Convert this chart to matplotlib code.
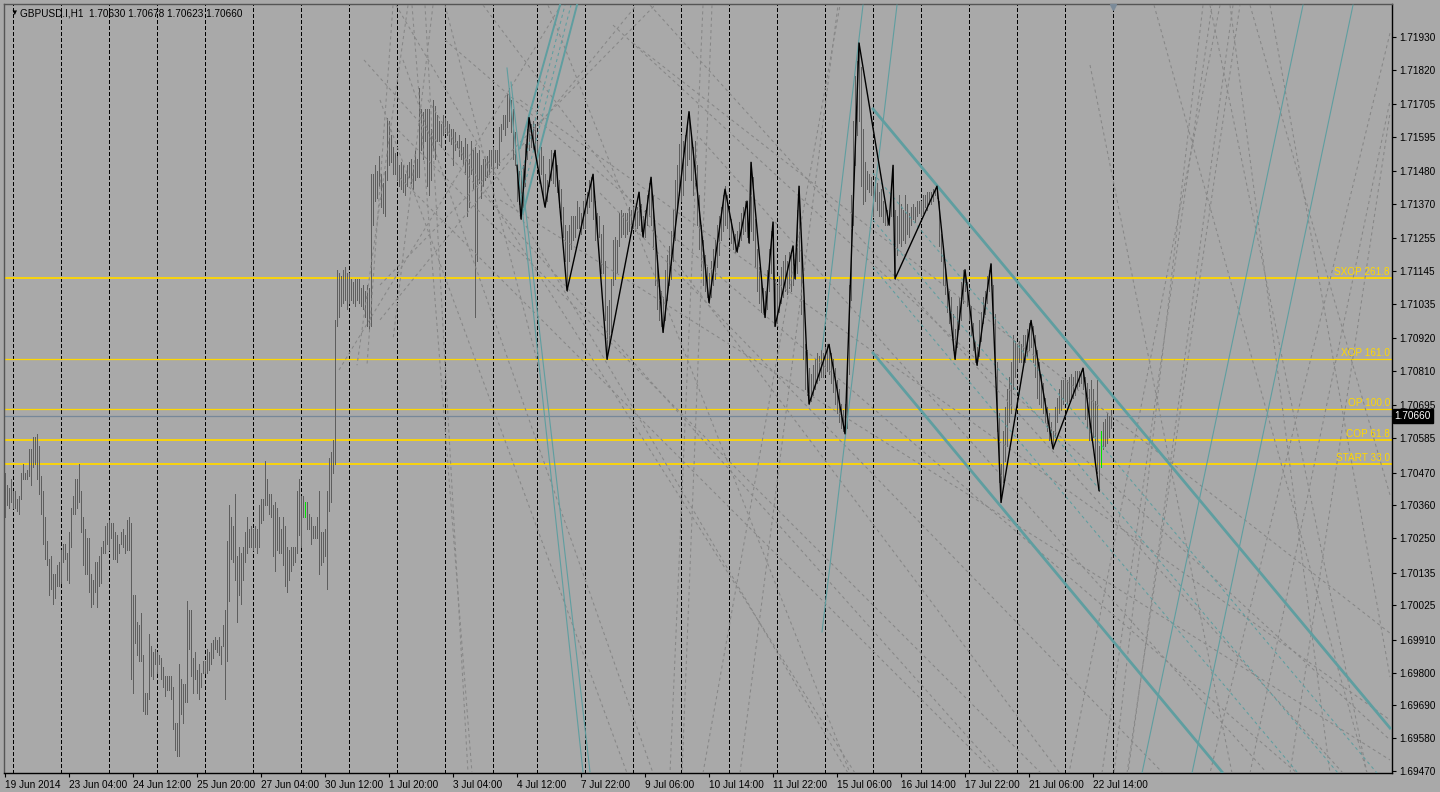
import matplotlib
matplotlib.use("Agg")
import matplotlib.pyplot as plt
import matplotlib.transforms as mtransforms

plt.rcParams["font.family"] = ["Liberation Sans", "DejaVu Sans"]

# GBPUSD H1 bars (high / low)
bar_high = [
    1.7047, 1.7043, 1.7042, 1.7045, 1.7041, 1.7041, 1.7038, 1.7039, 1.7047, 1.7050,
    1.7047, 1.7048, 1.7055, 1.7055, 1.7059, 1.7059, 1.7060, 1.7056, 1.7046, 1.7041,
    1.7032, 1.7024, 1.7018, 1.7019, 1.7013, 1.7013, 1.7016, 1.7017, 1.7021, 1.7023,
    1.7023, 1.7020, 1.7027, 1.7035, 1.7039, 1.7045, 1.7045, 1.7050, 1.7041, 1.7032,
    1.7028, 1.7025, 1.7025, 1.7013, 1.7011, 1.7017, 1.7017, 1.7019, 1.7022, 1.7024,
    1.7029, 1.7030, 1.7031, 1.7030, 1.7030, 1.7027, 1.7026, 1.7023, 1.7027, 1.7028,
    1.7026, 1.7031, 1.7032, 1.7030, 1.7006, 1.7006, 1.6997, 1.6996, 1.7000, 1.6986,
    1.6973, 1.6973, 1.6993, 1.6989, 1.6987, 1.6988, 1.6987, 1.6986, 1.6985, 1.6982,
    1.6979, 1.6979, 1.6979, 1.6979, 1.6975, 1.6963, 1.6963, 1.6983, 1.6978, 1.6976,
    1.6976, 1.7004, 1.7001, 1.7001, 1.6985, 1.6987, 1.6981, 1.6983, 1.6980, 1.6984,
    1.6984, 1.6988, 1.6987, 1.6990, 1.6991, 1.6992, 1.6991, 1.6992, 1.6989, 1.6996,
    1.7001, 1.7024, 1.7036, 1.7032, 1.7029, 1.7040, 1.7019, 1.7022, 1.7020, 1.7022,
    1.7027, 1.7032, 1.7028, 1.7029, 1.7028, 1.7029, 1.7028, 1.7036, 1.7038, 1.7038,
    1.7051, 1.7045, 1.7040, 1.7040, 1.7036, 1.7037, 1.7035, 1.7032, 1.7028, 1.7032,
    1.7029, 1.7022, 1.7021, 1.7022, 1.7022, 1.7022, 1.7041, 1.7045, 1.7039, 1.7039,
    1.7037, 1.7037, 1.7033, 1.7032, 1.7029, 1.7029, 1.7032, 1.7041, 1.7027, 1.7027,
    1.7028, 1.7041, 1.7052, 1.7054, 1.7058, 1.7098, 1.7115, 1.7114, 1.7113, 1.7115,
    1.7116, 1.7114, 1.7114, 1.7112, 1.7111, 1.7112, 1.7112, 1.7112, 1.7109, 1.7110,
    1.7108, 1.7110, 1.7109, 1.7147, 1.7147, 1.7150, 1.7148, 1.7153, 1.7147, 1.7144,
    1.7148, 1.7166, 1.7165, 1.7160, 1.7156, 1.7154, 1.7153, 1.7150, 1.7151, 1.7150,
    1.7147, 1.7150, 1.7151, 1.7152, 1.7150, 1.7155, 1.7152, 1.7176, 1.7169, 1.7168,
    1.7169, 1.7169, 1.7169, 1.7162, 1.7172, 1.7170, 1.7167, 1.7165, 1.7164, 1.7167,
    1.7166, 1.7165, 1.7164, 1.7162, 1.7162, 1.7161, 1.7158, 1.7160, 1.7158, 1.7156,
    1.7159, 1.7157, 1.7152, 1.7158, 1.7155, 1.7156, 1.7154, 1.7155, 1.7150, 1.7152,
    1.7152, 1.7153, 1.7155, 1.7155, 1.7156, 1.7155, 1.7155, 1.7163, 1.7164, 1.7167,
    1.7167, 1.7174, 1.7176, 1.7172, 1.7169, 1.7161, 1.7150, 1.7148, 1.7148, 1.7150,
    1.7157, 1.7162, 1.7166, 1.7164, 1.7165, 1.7164, 1.7158, 1.7156, 1.7156, 1.7153,
    1.7147, 1.7145, 1.7152, 1.7155, 1.7154, 1.7155, 1.7150, 1.7145, 1.7142, 1.7136,
    1.7130, 1.7128, 1.7130, 1.7133, 1.7133, 1.7133, 1.7138, 1.7136, 1.7134, 1.7138,
    1.7140, 1.7141, 1.7145, 1.7146, 1.7147, 1.7138, 1.7134, 1.7133, 1.7127, 1.7130,
    1.7118, 1.7103, 1.7105, 1.7112, 1.7125, 1.7126, 1.7125, 1.7134, 1.7135, 1.7134,
    1.7134, 1.7134, 1.7136, 1.7135, 1.7136, 1.7135, 1.7136, 1.7141, 1.7137, 1.7133,
    1.7135, 1.7140, 1.7144, 1.7146, 1.7140, 1.7128, 1.7120, 1.7112, 1.7108, 1.7106,
    1.7115, 1.7120, 1.7123, 1.7128, 1.7135, 1.7145, 1.7150, 1.7157, 1.7160, 1.7158,
    1.7160, 1.7163, 1.7168, 1.7160, 1.7156, 1.7158, 1.7150, 1.7140, 1.7130, 1.7125,
    1.7120, 1.7116, 1.7114, 1.7118, 1.7122, 1.7125, 1.7130, 1.7133, 1.7136, 1.7140,
    1.7143, 1.7140, 1.7135, 1.7132, 1.7128, 1.7127, 1.7128, 1.7131, 1.7134, 1.7136,
    1.7138, 1.7138, 1.7132, 1.7151, 1.7146, 1.7132, 1.7122, 1.7116, 1.7112, 1.7109,
    1.7108, 1.7115, 1.7122, 1.7128, 1.7131, 1.7112, 1.7110, 1.7113, 1.7116, 1.7118,
    1.7120, 1.7118, 1.7121, 1.7120, 1.7123, 1.7118, 1.7135, 1.7143, 1.7125, 1.7105,
    1.7090, 1.7088, 1.7082, 1.7080, 1.7083, 1.7085, 1.7087, 1.7086, 1.7088, 1.7087,
    1.7089, 1.7090, 1.7090, 1.7087, 1.7085, 1.7082, 1.7078, 1.7075, 1.7070, 1.7068,
    1.7070, 1.7085, 1.7110, 1.7140, 1.7165, 1.7180, 1.7185, 1.7191,
    1.7183, 1.7162, 1.7151, 1.7148, 1.7147, 1.7146, 1.7143, 1.7146, 1.7144, 1.7141,
    1.7142, 1.7138, 1.7137, 1.7135, 1.7133, 1.7141, 1.7150, 1.7135, 1.7133, 1.7140,
    1.7137, 1.7135, 1.7140, 1.7137, 1.7134, 1.7136, 1.7137, 1.7136, 1.7138, 1.7138,
    1.7138, 1.7140, 1.7140, 1.7141, 1.7141, 1.7141, 1.7142, 1.7142, 1.7143, 1.7138,
    1.7127, 1.7123, 1.7117, 1.7110, 1.7108, 1.7106, 1.7100, 1.7095, 1.7103, 1.7106,
    1.7111, 1.7115, 1.7115, 1.7111, 1.7108, 1.7103, 1.7097, 1.7091, 1.7089, 1.7098,
    1.7101, 1.7106, 1.7108, 1.7113, 1.7115, 1.7117, 1.7110, 1.7100, 1.7084, 1.7067,
    1.7050, 1.7061, 1.7069, 1.7075, 1.7079, 1.7084, 1.7093, 1.7091, 1.7090, 1.7091,
    1.7090, 1.7093, 1.7093, 1.7095, 1.7097, 1.7098, 1.7096, 1.7093, 1.7088, 1.7084,
    1.7080, 1.7077, 1.7072, 1.7069, 1.7067, 1.7064, 1.7061, 1.7069, 1.7072, 1.7075,
    1.7078, 1.7078, 1.7079, 1.7078, 1.7079, 1.7080, 1.7079, 1.7081, 1.7081, 1.7081,
    1.7081, 1.7082, 1.7079, 1.7077, 1.7075, 1.7078, 1.7075, 1.7071, 1.7078, 1.7056,
    1.7061, 1.7064, 1.7065, 1.7067, 1.7066, 1.7068,
]
bar_low = [
    1.7032, 1.7036, 1.7035, 1.7037, 1.7035, 1.7035, 1.7034, 1.7033, 1.7038, 1.7045,
    1.7045, 1.7045, 1.7046, 1.7043, 1.7049, 1.7050, 1.7045, 1.7040, 1.7033, 1.7023,
    1.7018, 1.7016, 1.7006, 1.7008, 1.7003, 1.7005, 1.7009, 1.7009, 1.7010, 1.7017,
    1.7018, 1.7011, 1.7010, 1.7022, 1.7033, 1.7033, 1.7035, 1.7037, 1.7027, 1.7016,
    1.7013, 1.7013, 1.7007, 1.7002, 1.7003, 1.7007, 1.7002, 1.7009, 1.7010, 1.7020,
    1.7020, 1.7023, 1.7021, 1.7025, 1.7018, 1.7018, 1.7017, 1.7020, 1.7023, 1.7022,
    1.7020, 1.7021, 1.7021, 1.6978, 1.6973, 1.6990, 1.6986, 1.6984, 1.6984, 1.6967,
    1.6966, 1.6966, 1.6971, 1.6979, 1.6978, 1.6983, 1.6980, 1.6983, 1.6978, 1.6975,
    1.6972, 1.6974, 1.6974, 1.6971, 1.6961, 1.6954, 1.6952, 1.6952, 1.6966, 1.6963,
    1.6970, 1.6970, 1.6988, 1.6979, 1.6973, 1.6978, 1.6973, 1.6971, 1.6975, 1.6980,
    1.6980, 1.6980, 1.6981, 1.6983, 1.6985, 1.6988, 1.6987, 1.6986, 1.6983, 1.6989,
    1.6971, 1.6984, 1.7004, 1.7018, 1.7017, 1.7011, 1.6997, 1.7006, 1.7003, 1.7011,
    1.7017, 1.7020, 1.7022, 1.7022, 1.7021, 1.7022, 1.7020, 1.7022, 1.7030, 1.7031,
    1.7036, 1.7036, 1.7033, 1.7032, 1.7019, 1.7014, 1.7021, 1.7020, 1.7020, 1.7016,
    1.7009, 1.7007, 1.7011, 1.7014, 1.7016, 1.7017, 1.7020, 1.7026, 1.7022, 1.7032,
    1.7032, 1.7028, 1.7028, 1.7023, 1.7025, 1.7025, 1.7025, 1.7013, 1.7016, 1.7017,
    1.7019, 1.7008, 1.7034, 1.7037, 1.7047, 1.7050, 1.7096, 1.7099, 1.7103, 1.7104,
    1.7105, 1.7102, 1.7104, 1.7105, 1.7104, 1.7103, 1.7105, 1.7104, 1.7103, 1.7102,
    1.7099, 1.7096, 1.7095, 1.7096, 1.7130, 1.7138, 1.7139, 1.7143, 1.7136, 1.7134,
    1.7133, 1.7145, 1.7150, 1.7151, 1.7147, 1.7147, 1.7145, 1.7143, 1.7142, 1.7141,
    1.7140, 1.7143, 1.7146, 1.7144, 1.7142, 1.7145, 1.7146, 1.7146, 1.7155, 1.7152,
    1.7158, 1.7143, 1.7140, 1.7145, 1.7155, 1.7152, 1.7158, 1.7158, 1.7156, 1.7160,
    1.7161, 1.7160, 1.7158, 1.7157, 1.7150, 1.7155, 1.7156, 1.7153, 1.7152, 1.7150,
    1.7147, 1.7133, 1.7136, 1.7147, 1.7142, 1.7099, 1.7118, 1.7144, 1.7139, 1.7143,
    1.7145, 1.7146, 1.7147, 1.7149, 1.7147, 1.7151, 1.7149, 1.7150, 1.7158, 1.7162,
    1.7160, 1.7163, 1.7165, 1.7161, 1.7152, 1.7150, 1.7138, 1.7137, 1.7132, 1.7136,
    1.7143, 1.7152, 1.7155, 1.7156, 1.7155, 1.7154, 1.7150, 1.7144, 1.7147, 1.7139,
    1.7136, 1.7138, 1.7143, 1.7145, 1.7144, 1.7143, 1.7141, 1.7136, 1.7132, 1.7126,
    1.7118, 1.7108, 1.7118, 1.7122, 1.7125, 1.7126, 1.7129, 1.7129, 1.7127, 1.7129,
    1.7129, 1.7134, 1.7136, 1.7138, 1.7132, 1.7125, 1.7127, 1.7126, 1.7114, 1.7114,
    1.7098, 1.7085, 1.7090, 1.7094, 1.7110, 1.7112, 1.7114, 1.7123, 1.7126, 1.7127,
    1.7126, 1.7127, 1.7128, 1.7129, 1.7129, 1.7128, 1.7129, 1.7130, 1.7128, 1.7126,
    1.7126, 1.7130, 1.7133, 1.7130, 1.7122, 1.7110, 1.7102, 1.7098, 1.7096, 1.7094,
    1.7098, 1.7105, 1.7110, 1.7112, 1.7118, 1.7125, 1.7135, 1.7140, 1.7138, 1.7140,
    1.7145, 1.7150, 1.7152, 1.7145, 1.7140, 1.7143, 1.7130, 1.7122, 1.7115, 1.7110,
    1.7108, 1.7106, 1.7104, 1.7106, 1.7110, 1.7112, 1.7116, 1.7120, 1.7125, 1.7128,
    1.7130, 1.7129, 1.7126, 1.7124, 1.7122, 1.7121, 1.7121, 1.7123, 1.7125, 1.7127,
    1.7128, 1.7126, 1.7124, 1.7128, 1.7125, 1.7116, 1.7108, 1.7104, 1.7101, 1.7100,
    1.7099, 1.7102, 1.7108, 1.7114, 1.7112, 1.7096, 1.7097, 1.7101, 1.7104, 1.7106,
    1.7108, 1.7107, 1.7109, 1.7108, 1.7110, 1.7112, 1.7114, 1.7118, 1.7100, 1.7085,
    1.7075, 1.7073, 1.7070, 1.7071, 1.7073, 1.7075, 1.7077, 1.7078, 1.7079, 1.7079,
    1.7080, 1.7081, 1.7080, 1.7077, 1.7074, 1.7070, 1.7067, 1.7064, 1.7062, 1.7061,
    1.7060, 1.7062, 1.7080, 1.7105, 1.7130, 1.7150, 1.7160, 1.7165,
    1.7143, 1.7137, 1.7138, 1.7142, 1.7141, 1.7140, 1.7133, 1.7138, 1.7135, 1.7133,
    1.7133, 1.7131, 1.7130, 1.7130, 1.7130, 1.7133, 1.7133, 1.7112, 1.7120, 1.7124,
    1.7123, 1.7125, 1.7124, 1.7127, 1.7126, 1.7130, 1.7132, 1.7131, 1.7133, 1.7134,
    1.7133, 1.7134, 1.7136, 1.7135, 1.7137, 1.7137, 1.7138, 1.7140, 1.7139, 1.7123,
    1.7118, 1.7110, 1.7107, 1.7101, 1.7097, 1.7095, 1.7088, 1.7085, 1.7089, 1.7095,
    1.7098, 1.7104, 1.7108, 1.7103, 1.7098, 1.7093, 1.7088, 1.7084, 1.7083, 1.7086,
    1.7091, 1.7097, 1.7100, 1.7104, 1.7108, 1.7110, 1.7097, 1.7084, 1.7061, 1.7044,
    1.7037, 1.7044, 1.7051, 1.7056, 1.7064, 1.7067, 1.7075, 1.7079, 1.7082, 1.7084,
    1.7084, 1.7084, 1.7084, 1.7086, 1.7088, 1.7089, 1.7084, 1.7079, 1.7072, 1.7070,
    1.7069, 1.7067, 1.7064, 1.7061, 1.7058, 1.7057, 1.7055, 1.7059, 1.7064, 1.7067,
    1.7068, 1.7070, 1.7071, 1.7070, 1.7071, 1.7072, 1.7072, 1.7073, 1.7075, 1.7076,
    1.7077, 1.7075, 1.7065, 1.7062, 1.7058, 1.7058, 1.7059, 1.7050, 1.7047, 1.7041,
    1.7050, 1.7055, 1.7056, 1.7057, 1.7059, 1.7062,
]
bar_index = list(range(len(bar_high)))

# zigzag indicator swing points
zigzag_bar = [256, 258, 262, 270, 275, 281, 294, 301, 317, 319, 323, 329, 342, 352,
              360, 366, 371, 372, 373, 380, 384, 385, 394, 395, 397, 402, 412, 420,
              427, 442, 444, 445, 466, 475, 480, 486, 493, 498, 513, 524, 539, 547]
zigzag_price = [1.7150, 1.7132, 1.7166, 1.7136, 1.7155, 1.7108, 1.7147, 1.7085, 1.7141,
                1.7126, 1.7146, 1.7094, 1.7168, 1.7104, 1.7142, 1.7121, 1.7138, 1.7124,
                1.7151, 1.7099, 1.7131, 1.7096, 1.7123, 1.7112, 1.7143, 1.7070, 1.7090,
                1.7060, 1.7191, 1.7130, 1.7150, 1.7112, 1.7143, 1.7085, 1.7115, 1.7083,
                1.7117, 1.7037, 1.7098, 1.7055, 1.7082, 1.7041]

green_bar = [150, 372, 548]
green_high = [1.7037, 1.7132, 1.7061]
green_low = [1.7032, 1.7127, 1.7049]

# day separators (bar numbers)
grid_bars = [4, 28, 52, 76, 100, 124, 148, 172, 196, 220, 244, 266, 290, 314,
             338, 362, 386, 410, 434, 458, 482, 506, 530, 554]

date_bars = [0, 32, 64, 96, 128, 160, 192, 224, 256, 288, 320, 352, 384, 416,
             448, 480, 512, 544]
date_labels = ["19 Jun 2014", "23 Jun 04:00", "24 Jun 12:00", "25 Jun 20:00",
               "27 Jun 04:00", "30 Jun 12:00", "1 Jul 20:00", "3 Jul 04:00",
               "4 Jul 12:00", "7 Jul 22:00", "9 Jul 06:00", "10 Jul 14:00",
               "11 Jul 22:00", "15 Jul 06:00", "16 Jul 14:00", "17 Jul 22:00",
               "21 Jul 06:00", "22 Jul 14:00"]

price_ticks = [1.71930, 1.71820, 1.71705, 1.71595, 1.71480, 1.71370, 1.71255,
               1.71145, 1.71035, 1.70920, 1.70810, 1.70695, 1.70585, 1.70470,
               1.70360, 1.70250, 1.70135, 1.70025, 1.69910, 1.69800, 1.69690,
               1.69580, 1.69470]

level_names = ["SXOP 261.8", "XOP 161.0", "OP 100.0", "COP 61.8", "START 33.0"]
level_prices = [1.71122, 1.70851, 1.70683, 1.70579, 1.70499]
level_widths = [1.3, 0.9, 0.9, 1.3, 1.3]

last_price = 1.70660
title = "GBPUSD.I,H1  1.70630 1.70678 1.70623 1.70660"

# chart objects: (bar1, price1, bar2, price2)
gray_dashed = [
    (194, 1.72037, 181, 1.7083), (201.5, 1.72037, 176, 1.7083),
    (214, 1.72037, 194, 1.70914), (220, 1.72037, 267.5, 1.70807),
    (203.5, 1.72037, 233.5, 1.69463), (210, 1.72037, 231.5, 1.69463),
    (187.5, 1.71719, 311, 1.69463), (199, 1.71853, 324, 1.69463),
    (211.5, 1.71719, 425, 1.69463), (179.5, 1.71853, 497.5, 1.69463),
    (220, 1.7192, 646, 1.69463), (304, 1.7197, 692.5, 1.69574),
    (314, 1.7191, 692.5, 1.69932), (187.5, 1.70982, 315, 1.72031),
    (167, 1.70814, 278, 1.72037), (187.5, 1.71099, 325, 1.72037),
    (271.5, 1.72037, 422.5, 1.69463), (239, 1.72037, 527.5, 1.69463),
    (349, 1.72037, 332.5, 1.69463), (353.5, 1.72037, 338.5, 1.69463),
    (349, 1.69463, 417.5, 1.72037), (367.5, 1.69463, 416.5, 1.72037),
    (196.5, 1.71618, 518, 1.69463), (197.5, 1.71457, 495, 1.69463),
    (195.5, 1.72037, 421.5, 1.69463), (347.5, 1.71591, 631, 1.69463),
    (297.5, 1.71407, 579, 1.69463), (322.5, 1.72037, 669, 1.69463),
    (599, 1.72037, 554.5, 1.69463), (602.5, 1.72037, 681, 1.69463),
    (614, 1.72037, 561.5, 1.69463), (622.5, 1.72037, 692.5, 1.70395),
    (632.5, 1.72037, 692.5, 1.69785), (692.5, 1.71943, 602.5, 1.69463),
    (542.5, 1.71836, 613.5, 1.69463), (607.5, 1.72037, 532, 1.69463),
    (612.5, 1.72037, 662.5, 1.69463), (574.5, 1.72037, 681, 1.69463),
    (642.5, 1.69463, 692.5, 1.71675), (622.5, 1.69463, 692.5, 1.71716),
    (561, 1.69463, 617.5, 1.72037), (548.5, 1.69463, 603.5, 1.72037),
    (257.5, 1.71719, 692.5, 1.69641), (247.5, 1.71384, 692.5, 1.69507),
]
teal_thin = [
    (251, 1.71826, 289, 1.69467), (253, 1.71779, 292.5, 1.69467),
    (408.5, 1.69936, 446, 1.72037), (408.5, 1.70881, 429, 1.72037),
    (568.5, 1.69463, 649, 1.72037), (593.5, 1.69463, 674, 1.72037),
]
teal_mid = [
    (257.5, 1.71558, 277.5, 1.72037), (259, 1.7134, 286, 1.72037),
]
teal_thick = [
    (434, 1.71689, 692.5, 1.69614), (434, 1.70871, 608.5, 1.69467),
]
teal_dashed = [
    (258, 1.71467, 280, 1.72037), (258.5, 1.7140, 283, 1.72037),
    (434, 1.71474, 686, 1.69463), (434, 1.71317, 666.5, 1.69463),
    (434, 1.71159, 646.5, 1.69463),
]

BG = "#a9a9a9"
TEAL = "#5f9ea0"
GOLD = "#ffd700"
FS = 7.2

fig = plt.figure(figsize=(14.4, 7.92), dpi=100, facecolor=BG)
ax = fig.add_axes([4 / 1440, 19 / 792, 1388 / 1440, 769 / 792])
ax.set_facecolor(BG)
ax.set_xlim(-0.5, 693.5)
ax.set_ylim(1.694633, 1.720406)

# day separators
ax.vlines(grid_bars, 1.694633, 1.720406, colors="black", linewidth=0.7,
          linestyles=[(0, (4, 2.5))], antialiased=False, zorder=1)

# level lines
for price, lw in zip(level_prices, level_widths):
    ax.axhline(price, color=GOLD, linewidth=lw, zorder=2)
ax.axhline(last_price, color="#778899", linewidth=0.9, zorder=2)

# price bars
ax.vlines(bar_index, bar_low, bar_high, colors="#5e5e5e", linewidth=0.55,
          antialiased=False, zorder=3)
ax.vlines(green_bar, green_low, green_high, colors="#00e000", linewidth=0.55,
          antialiased=False, zorder=3)

# drawn objects
for x1, y1, x2, y2 in gray_dashed:
    ax.plot([x1, x2], [y1, y2], color="#878787", linewidth=0.75,
            linestyle=(0, (3, 3)), zorder=4)
for x1, y1, x2, y2 in teal_dashed:
    ax.plot([x1, x2], [y1, y2], color=TEAL, linewidth=0.75,
            linestyle=(0, (3, 3)), zorder=5)
for x1, y1, x2, y2 in teal_thin:
    ax.plot([x1, x2], [y1, y2], color=TEAL, linewidth=0.8, zorder=5)
for x1, y1, x2, y2 in teal_mid:
    ax.plot([x1, x2], [y1, y2], color=TEAL, linewidth=1.4, zorder=5)
for x1, y1, x2, y2 in teal_thick:
    ax.plot([x1, x2], [y1, y2], color=TEAL, linewidth=2.0, zorder=5)

# zigzag
ax.plot(zigzag_bar, zigzag_price, color="black", linewidth=1.0, zorder=6)

# level captions
for name, price in zip(level_names, level_prices):
    ax.text(692.5, price + 0.00003, name, color=GOLD, fontsize=FS,
            ha="right", va="bottom", zorder=7)

# axes styling
ax.yaxis.tick_right()
ax.set_yticks(price_ticks)
ax.set_yticklabels([f"{p:.5f}" for p in price_ticks])
ax.set_xticks(date_bars)
ax.set_xticklabels(date_labels)
for lbl in ax.get_xticklabels():
    lbl.set_ha("left")
ax.tick_params(axis="y", direction="out", length=3, width=0.8, pad=2,
               labelsize=FS, colors="black")
ax.tick_params(axis="x", direction="out", length=3, width=0.8, pad=2,
               labelsize=FS, colors="black")
for side in ["right", "bottom"]:
    ax.spines[side].set_color("black")
    ax.spines[side].set_linewidth(1.0)
for side in ["top", "left"]:
    ax.spines[side].set_color("#555555")
    ax.spines[side].set_linewidth(1.0)

# last price tag on the axis
tag = mtransforms.blended_transform_factory(ax.transAxes, ax.transData)
ax.text(1.0018, last_price, f"{last_price:.5f}", transform=tag, color="white",
        fontsize=FS, ha="left", va="center", zorder=8, clip_on=False,
        bbox=dict(boxstyle="square,pad=0.18", fc="black", ec="black"))

# chart shift marker
ax.plot([554], [1.72030], marker="v", color="#7a8a99", markersize=5,
        clip_on=False, zorder=8)

fig.text(10 / 1440, 1 - 13 / 792, "\u25bc", fontsize=5.5, ha="left", va="center")
fig.text(20 / 1440, 1 - 13 / 792, title, fontsize=FS, ha="left", va="center")

fig.savefig("out.png", dpi=100, facecolor=BG)
